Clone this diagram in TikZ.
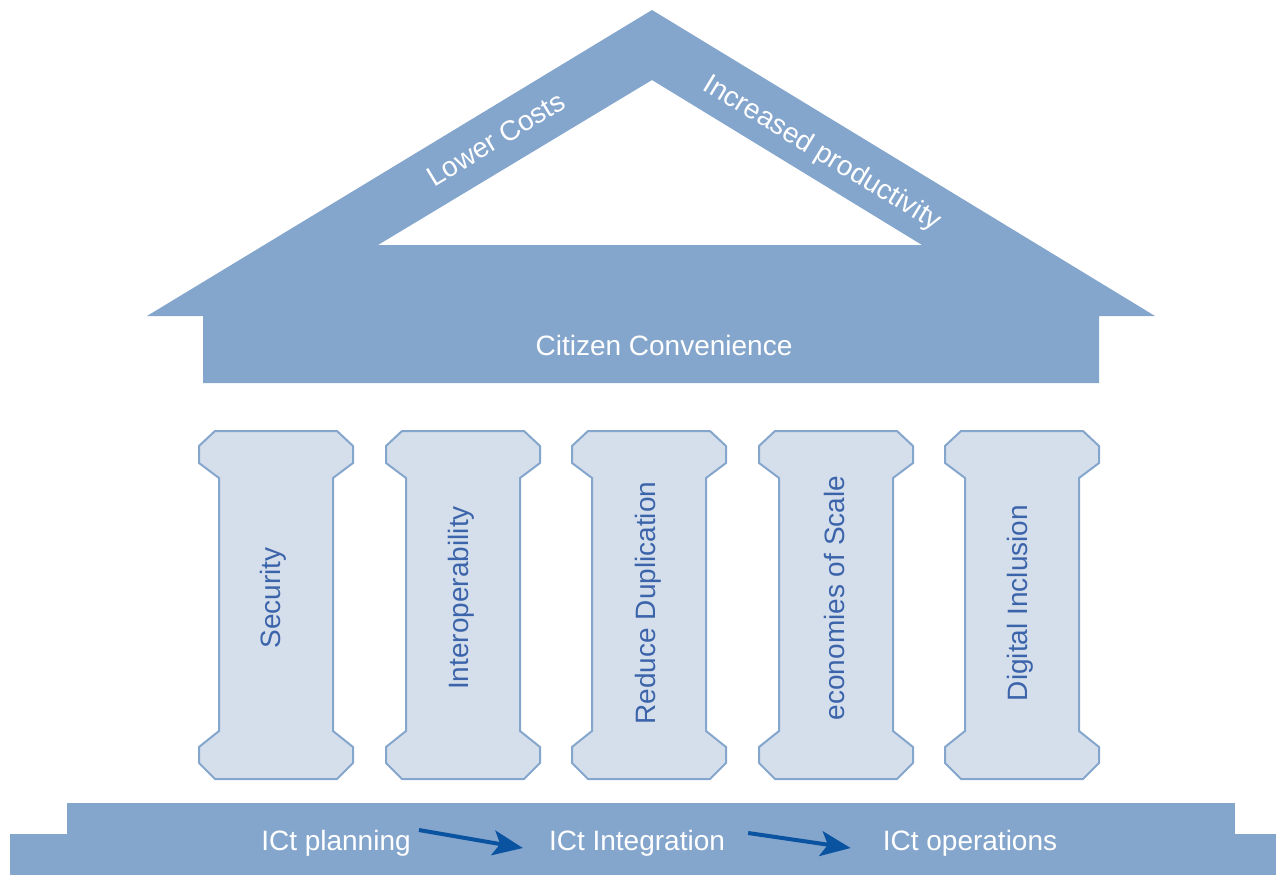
\documentclass[tikz,border=0pt]{standalone}
\usepackage{fontspec}
\setmainfont{Liberation Sans}
\usetikzlibrary{arrows.meta}
\definecolor{roofblue}{HTML}{85A6CC}
\definecolor{pillarfill}{HTML}{D5DFEC}
\definecolor{pillartext}{HTML}{3C64AA}
\definecolor{arrowblue}{HTML}{0A53A0}
\tikzset{
  roofpart/.style={fill=roofblue, draw=none},
  whitelabel/.style={text=white, font=\fontsize{28}{31}\selectfont, inner sep=0pt},
  pillarlabel/.style={text=pillartext, font=\fontsize{28}{31}\selectfont, inner sep=0pt, rotate=90},
  pillarbody/.style={fill=pillarfill, draw=roofblue, line width=2pt, line join=miter},
  flowarrow/.style={draw=arrowblue, line width=4pt, -{Stealth[length=30pt,width=25pt,inset=7pt]}}
}
\newcommand{\pillarshape}[1]{%
  \draw[pillarbody] (#1+16,431) -- (#1+138,431) -- (#1+154,446) -- (#1+154,463) -- (#1+134,478) -- (#1+134,731) -- (#1+154,747) -- (#1+154,763) -- (#1+138,779) -- (#1+16,779) -- (#1,763) -- (#1,747) -- (#1+20,731) -- (#1+20,478) -- (#1,463) -- (#1,446) -- cycle;}
\begin{document}
\begin{tikzpicture}[x=1pt,y=-1pt]
\useasboundingbox (0,0) rectangle (1276,875);
% roof
\fill[roofpart, even odd rule] (652,10) -- (1155,316) -- (1099,316) -- (1099,383) -- (203,383) -- (203,316) -- (147,316) -- cycle
  (652,80) -- (378,245) -- (922,245) -- cycle;
\node[whitelabel, rotate=31.2] (lower) at (496,139) {Lower Costs};
\node[whitelabel, rotate=-31.2] (incr) at (822,154) {Increased productivity};
\node[whitelabel] (citizen) at (664,345) {Citizen Convenience};
% pillars
\pillarshape{199}
\pillarshape{386}
\pillarshape{572}
\pillarshape{759}
\pillarshape{945}
\node[pillarlabel] (sec) at (273,598) {Security};
\node[pillarlabel] (inter) at (461,598) {Interoperability};
\node[pillarlabel] (dup) at (648,603) {Reduce Duplication};
\node[pillarlabel] (econ) at (834,598) {economies of Scale};
\node[pillarlabel] (dig) at (1020,603) {Digital Inclusion};
% base
\fill[roofpart] (67,803) rectangle (1235,875);
\fill[roofpart] (10,834) rectangle (1276,875);
\node[whitelabel] (plan) at (336,843) {ICt planning};
\node[whitelabel] (integ) at (637,843) {ICt Integration};
\node[whitelabel] (ops) at (970,843) {ICt operations};
\draw[flowarrow] ([xshift=8pt,yshift=13pt]plan.east) -- ([xshift=-26pt,yshift=-5pt]integ.west);
\draw[flowarrow] ([xshift=23pt,yshift=10pt]integ.east) -- ([xshift=-32pt,yshift=-5pt]ops.west);
\end{tikzpicture}
\end{document}
